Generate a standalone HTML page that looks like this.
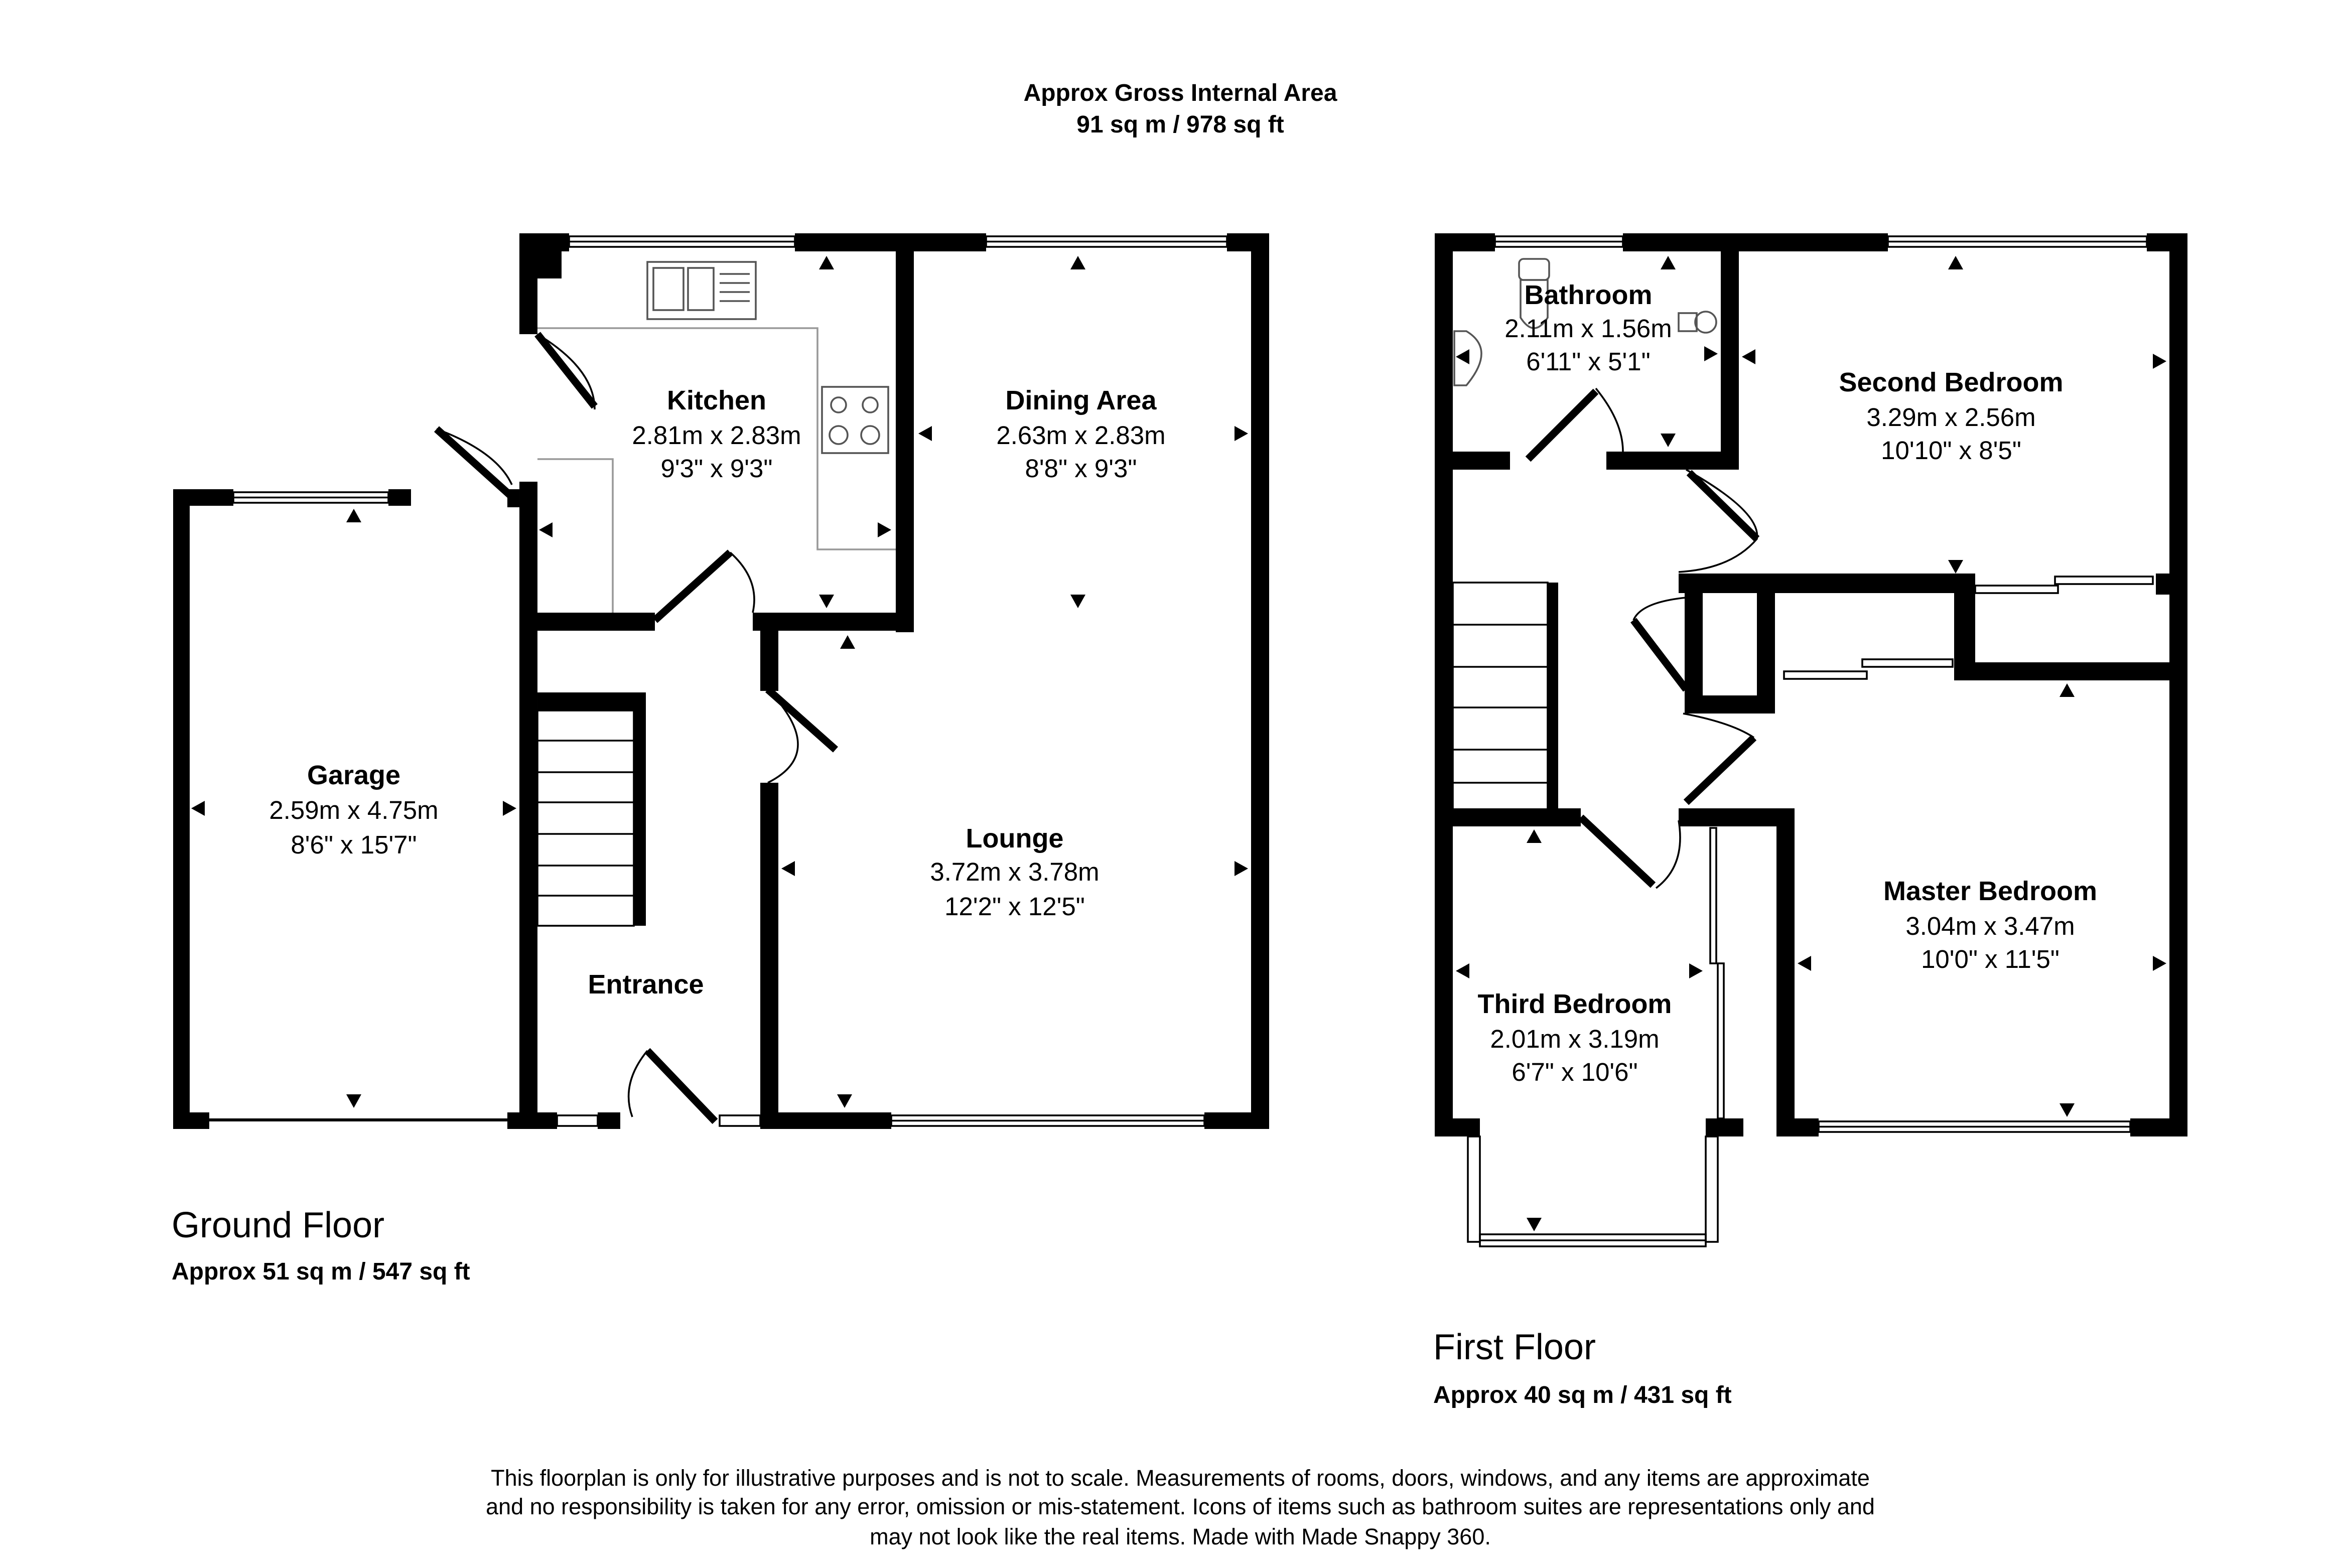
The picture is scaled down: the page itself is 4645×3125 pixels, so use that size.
<!DOCTYPE html>
<html><head><meta charset="utf-8"><style>
html,body{margin:0;padding:0;background:#fff}
svg{display:block}
text{font-family:"Liberation Sans",Arial,sans-serif;fill:#000}
.b{font-weight:bold}
</style></head><body>
<svg width="4645" height="3125" viewBox="0 0 1548.33 1041.67" xmlns="http://www.w3.org/2000/svg">
<rect width="1548.33" height="1041.67" fill="#fff"/>
<g text-anchor="middle">
<text x="784" y="67" font-size="16" class="b">Approx Gross Internal Area</text>
<text x="784" y="88" font-size="16" class="b">91 sq m / 978 sq ft</text>
</g>
<g fill="#000">
<rect x="115" y="325" width="11" height="425"/>
<rect x="115" y="325" width="40" height="11"/>
<rect x="258" y="325" width="15" height="11"/>
<rect x="115" y="739" width="24" height="11"/>
<rect x="337" y="739" width="33" height="11"/>
<rect x="337" y="325" width="8" height="12"/>
<rect x="345" y="155" width="12" height="67"/>
<rect x="345" y="320" width="12" height="430"/>
<rect x="345" y="155" width="33" height="12"/>
<rect x="345" y="155" width="28" height="30"/>
<rect x="528" y="155" width="127" height="12"/>
<rect x="815" y="155" width="28" height="12"/>
<rect x="595" y="155" width="12" height="265"/>
<rect x="345" y="407" width="90" height="12"/>
<rect x="500" y="407" width="107" height="12"/>
<rect x="505" y="419" width="12" height="40"/>
<rect x="505" y="520" width="12" height="230"/>
<rect x="831" y="155" width="12" height="595"/>
<rect x="505" y="739" width="87" height="11"/>
<rect x="800" y="739" width="43" height="11"/>
<rect x="397" y="739" width="15" height="11"/>
<rect x="357" y="460" width="72" height="12"/>
<rect x="421" y="460" width="8" height="155"/>
<rect x="953" y="155" width="12" height="600"/>
<rect x="953" y="155" width="40" height="12"/>
<rect x="1078" y="155" width="176" height="12"/>
<rect x="1426" y="155" width="27" height="12"/>
<rect x="1441" y="155" width="12" height="600"/>
<rect x="1143" y="167" width="12" height="145"/>
<rect x="953" y="300" width="50" height="12"/>
<rect x="1067" y="300" width="88" height="12"/>
<rect x="1115" y="381" width="185" height="13"/>
<rect x="1119" y="394" width="60" height="80"/>
<rect x="1131" y="394" width="36" height="68" fill="#fff"/>
<rect x="1167" y="394" width="12" height="57"/>
<rect x="1298" y="381" width="14" height="70"/>
<rect x="1298" y="440" width="155" height="12"/>
<rect x="1432" y="381" width="21" height="14"/>
<rect x="953" y="537" width="97" height="12"/>
<rect x="1115" y="537" width="75" height="12"/>
<rect x="1180" y="537" width="12" height="218"/>
<rect x="1180" y="743" width="28" height="12"/>
<rect x="1415" y="743" width="38" height="12"/>
<rect x="953" y="743" width="30" height="12"/>
<rect x="1133" y="743" width="25" height="12"/>
<rect x="1028" y="387" width="7" height="155"/>
</g>
<g fill="none" stroke="#000" stroke-width="1.2">
<rect x="155" y="327" width="103" height="7"/><line x1="155" y1="330.5" x2="258" y2="330.5"/>
<rect x="378" y="157" width="150" height="7"/><line x1="378" y1="160.5" x2="528" y2="160.5"/>
<rect x="655" y="157" width="160" height="7"/><line x1="655" y1="160.5" x2="815" y2="160.5"/>
<rect x="592" y="741" width="208" height="7"/><line x1="592" y1="744.5" x2="800" y2="744.5"/>
<rect x="370" y="741" width="27" height="7"/><rect x="478" y="741" width="27" height="7"/>
<line x1="139" y1="744" x2="337" y2="744" stroke-width="2"/>
<rect x="993" y="157" width="85" height="7"/><line x1="993" y1="160.5" x2="1078" y2="160.5"/>
<rect x="1254" y="157" width="172" height="7"/><line x1="1254" y1="160.5" x2="1426" y2="160.5"/>
<rect x="1208" y="745" width="207" height="7"/><line x1="1208" y1="748.5" x2="1415" y2="748.5"/>
<rect x="955" y="320" width="8" height="100"/>
<rect x="975" y="755" width="8" height="70"/><rect x="1133" y="755" width="8" height="70"/>
<rect x="983" y="820" width="150" height="8"/><line x1="983" y1="824" x2="1133" y2="824"/>
<rect x="1312" y="389" width="55" height="5"/><rect x="1365" y="383" width="65" height="5"/>
<rect x="1185" y="446" width="55" height="5"/><rect x="1237" y="438" width="60" height="5"/>
<rect x="1136" y="550" width="4" height="90"/><rect x="1141" y="640" width="4" height="103"/>
<rect x="357" y="472" width="64" height="143"/>
<line x1="357" y1="492" x2="421" y2="492"/><line x1="357" y1="513" x2="421" y2="513"/><line x1="357" y1="533" x2="421" y2="533"/><line x1="357" y1="554" x2="421" y2="554"/><line x1="357" y1="575" x2="421" y2="575"/><line x1="357" y1="595" x2="421" y2="595"/>
<rect x="965" y="387" width="63" height="155"/>
<line x1="965" y1="415" x2="1028" y2="415"/><line x1="965" y1="443" x2="1028" y2="443"/><line x1="965" y1="470" x2="1028" y2="470"/><line x1="965" y1="498" x2="1028" y2="498"/><line x1="965" y1="520" x2="1028" y2="520"/>
<polyline points="357,218 543,218 543,365 595,365" stroke="#999"/>
<polyline points="357,305 407,305 407,407" stroke="#999"/>
<!-- sink -->
<rect x="430" y="174" width="72" height="38" stroke="#555"/>
<rect x="434" y="178" width="20" height="28" stroke="#555"/><rect x="457" y="178" width="17" height="28" stroke="#555"/>
<line x1="478" y1="182" x2="498" y2="182" stroke="#555"/><line x1="478" y1="188" x2="498" y2="188" stroke="#555"/><line x1="478" y1="194" x2="498" y2="194" stroke="#555"/><line x1="478" y1="200" x2="498" y2="200" stroke="#555"/>
<!-- hob -->
<rect x="546" y="257" width="44" height="44" stroke="#555"/>
<circle cx="557" cy="269" r="5" stroke="#555"/><circle cx="578" cy="269" r="5" stroke="#555"/><circle cx="557" cy="289" r="6" stroke="#555"/><circle cx="578" cy="289" r="6" stroke="#555"/>
<!-- bathroom fixtures -->
<rect x="1009" y="172" width="20" height="14" rx="3" stroke="#555"/>
<path d="M1010,186 h18 v25 q-9,14 -18,0z" stroke="#555"/>
<path d="M966,220 h8 q20,12 0,36 h-8z" stroke="#555"/>
<rect x="1115" y="208" width="12" height="12" stroke="#555"/><circle cx="1133" cy="214" r="7" stroke="#555"/>
<path d="M357,222 Q395,245 395,272" /><path d="M290,285 Q330,300 340,322"/>
<path d="M485,367 Q505,385 500,407"/><path d="M510,458 Q550,500 510,520"/>
<path d="M430,698 Q412,720 420,742"/>
<path d="M1060,258 Q1078,280 1078,300"/><path d="M1120,312 Q1170,340 1167,358 Q1150,378 1115,380"/>
<path d="M1120,397 Q1090,400 1085,412"/><path d="M1118,474 Q1150,480 1165,490"/>
<path d="M1115,545 Q1120,575 1100,590"/>
</g>
<g stroke="#000" stroke-width="5" fill="none">
<line x1="357" y1="222" x2="395" y2="270"/>
<line x1="290" y1="285" x2="340" y2="330"/>
<line x1="435" y1="412" x2="485" y2="367"/>
<line x1="510" y1="458" x2="555" y2="498"/>
<line x1="430" y1="698" x2="475" y2="745"/>
<line x1="1015" y1="305" x2="1060" y2="260"/>
<line x1="1122" y1="314" x2="1167" y2="358"/>
<line x1="1085" y1="412" x2="1120" y2="458"/>
<line x1="1165" y1="490" x2="1120" y2="533"/>
<line x1="1050" y1="543" x2="1098" y2="588"/>
</g>
<g fill="#000">
<path d="M549,170 l5,9 h-10z"/><path d="M716,170 l5,9 h-10z"/><path d="M235,338 l5,9 h-10z"/>
<path d="M563,422 l5,9 h-10z"/><path d="M1108,170 l5,9 h-10z"/><path d="M1299,170 l5,9 h-10z"/>
<path d="M1373,454 l5,9 h-10z"/><path d="M1019,551 l5,9 h-10z"/>
<path d="M549,404 l5,-9 h-10z"/><path d="M716,404 l5,-9 h-10z"/><path d="M235,736 l5,-9 h-10z"/>
<path d="M561,736 l5,-9 h-10z"/><path d="M1108,297 l5,-9 h-10z"/><path d="M1299,381 l5,-9 h-10z"/>
<path d="M1373,742 l5,-9 h-10z"/><path d="M1019,818 l5,-9 h-10z"/>
<path d="M358,352 l9,-5 v10z"/><path d="M610,288 l9,-5 v10z"/><path d="M127,537 l9,-5 v10z"/>
<path d="M519,577 l9,-5 v10z"/><path d="M967,237 l9,-5 v10z"/><path d="M1157,237 l9,-5 v10z"/>
<path d="M967,645 l9,-5 v10z"/><path d="M1194,640 l9,-5 v10z"/>
<path d="M592,352 l-9,-5 v10z"/><path d="M829,288 l-9,-5 v10z"/><path d="M343,537 l-9,-5 v10z"/>
<path d="M829,577 l-9,-5 v10z"/><path d="M1141,235 l-9,-5 v10z"/><path d="M1439,240 l-9,-5 v10z"/>
<path d="M1131,645 l-9,-5 v10z"/><path d="M1439,640 l-9,-5 v10z"/>
</g>
<g text-anchor="middle" font-size="17">
<text x="476" y="272" class="b" font-size="18">Kitchen</text><text x="476" y="295">2.81m x 2.83m</text><text x="476" y="317">9'3" x 9'3"</text>
<text x="718" y="272" class="b" font-size="18">Dining Area</text><text x="718" y="295">2.63m x 2.83m</text><text x="718" y="317">8'8" x 9'3"</text>
<text x="235" y="521" class="b" font-size="18">Garage</text><text x="235" y="544">2.59m x 4.75m</text><text x="235" y="567">8'6" x 15'7"</text>
<text x="674" y="563" class="b" font-size="18">Lounge</text><text x="674" y="585">3.72m x 3.78m</text><text x="674" y="608">12'2" x 12'5"</text>
<text x="429" y="660" class="b" font-size="18">Entrance</text>
<text x="1055" y="202" class="b" font-size="18">Bathroom</text><text x="1055" y="224">2.11m x 1.56m</text><text x="1055" y="246">6'11" x 5'1"</text>
<text x="1296" y="260" class="b" font-size="18">Second Bedroom</text><text x="1296" y="283">3.29m x 2.56m</text><text x="1296" y="305">10'10" x 8'5"</text>
<text x="1322" y="598" class="b" font-size="18">Master Bedroom</text><text x="1322" y="621">3.04m x 3.47m</text><text x="1322" y="643">10'0" x 11'5"</text>
<text x="1046" y="673" class="b" font-size="18">Third Bedroom</text><text x="1046" y="696">2.01m x 3.19m</text><text x="1046" y="718">6'7" x 10'6"</text>
</g>
<text x="114" y="822" font-size="24">Ground Floor</text>
<text x="114" y="850" font-size="16" class="b">Approx 51 sq m / 547 sq ft</text>
<text x="952" y="903" font-size="24">First Floor</text>
<text x="952" y="932" font-size="16" class="b">Approx 40 sq m / 431 sq ft</text>
<g text-anchor="middle" font-size="15">
<text x="784" y="987">This floorplan is only for illustrative purposes and is not to scale. Measurements of rooms, doors, windows, and any items are approximate</text>
<text x="784" y="1006">and no responsibility is taken for any error, omission or mis-statement. Icons of items such as bathroom suites are representations only and</text>
<text x="784" y="1026">may not look like the real items. Made with Made Snappy 360.</text>
</g>
</svg>
</body></html>
